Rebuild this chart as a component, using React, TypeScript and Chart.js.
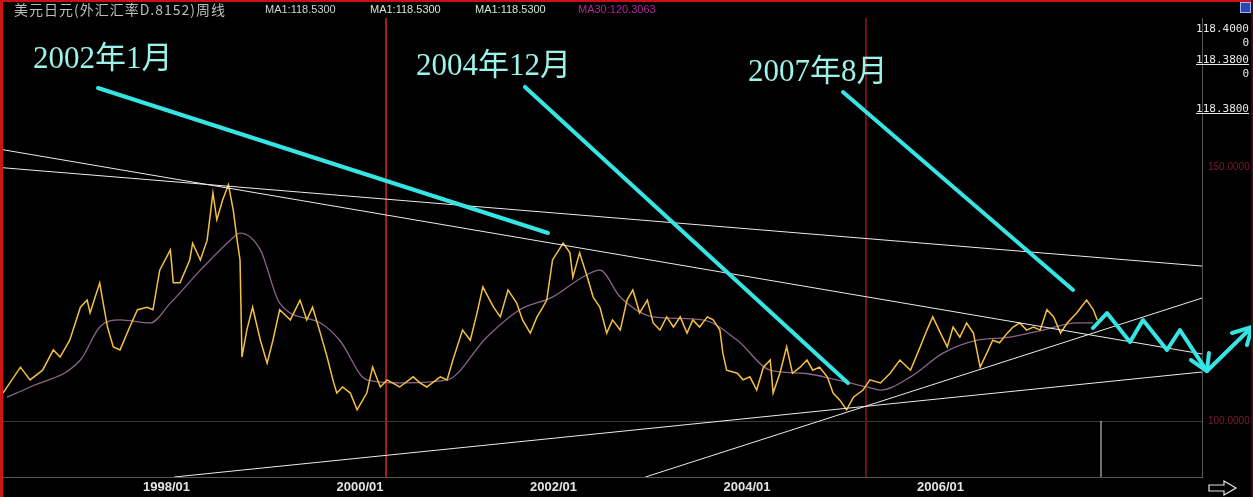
import React, { useEffect, useRef } from 'react';
import { Chart, registerables } from 'chart.js';

Chart.register(...registerables);

// ---- axis ----
const xTickYears = [1998, 2000, 2002, 2004, 2006];
const xTickLabels = ['1998/01', '2000/01', '2002/01', '2004/01', '2006/01'];
const yTickValues = [100, 150];
const yTickLabels = ['100.0000', '150.0000'];
const xMin = 1996.279;
const xMax = 2008.703;
const yMin = 88.98;
const yMax = 179.33;

// ---- header / panel texts ----
const chartTitle = '美元日元(外汇汇率D.8152)周线';
const headerLabels = ['MA1:118.5300', 'MA1:118.5300', 'MA1:118.5300', 'MA30:120.3063'];
const panelLabels = ['118.4000', '0', '118.3800', '0', '118.3800'];
const noteLabels = ['2002年1月', '2004年12月', '2007年8月'];

// ---- weekly price (USD/JPY) ----
const priceYears = [
  1996.31, 1996.49, 1996.59, 1996.72, 1996.83, 1996.9, 1997.0, 1997.11, 1997.18, 1997.21,
  1997.31, 1997.34, 1997.39, 1997.45, 1997.52, 1997.62, 1997.7, 1997.8, 1997.86, 1997.93,
  1998.04, 1998.07, 1998.14, 1998.24, 1998.27, 1998.35, 1998.42, 1998.48, 1998.52, 1998.58,
  1998.64, 1998.69, 1998.73, 1998.76, 1998.78, 1998.83, 1998.89, 1998.97, 1999.04, 1999.1,
  1999.17, 1999.28, 1999.38, 1999.45, 1999.51, 1999.59, 1999.66, 1999.72, 1999.76, 1999.82,
  1999.9, 1999.97, 2000.07, 2000.13, 2000.21, 2000.28, 2000.41, 2000.55, 2000.62, 2000.69,
  2000.83, 2000.9, 2000.96, 2001.06, 2001.14, 2001.21, 2001.27, 2001.38, 2001.45, 2001.53,
  2001.62, 2001.68, 2001.76, 2001.83, 2001.89, 2001.93, 2001.99, 2002.1, 2002.17, 2002.2,
  2002.27, 2002.35, 2002.41, 2002.48, 2002.55, 2002.61, 2002.69, 2002.76, 2002.82, 2002.89,
  2002.97, 2003.03, 2003.1, 2003.17, 2003.24, 2003.31, 2003.38, 2003.44, 2003.51, 2003.59,
  2003.65, 2003.72, 2003.75, 2003.79, 2003.9, 2003.96, 2004.03, 2004.1, 2004.17, 2004.24,
  2004.27, 2004.34, 2004.41, 2004.47, 2004.55, 2004.62, 2004.68, 2004.75, 2004.83, 2004.89,
  2004.96, 2005.03, 2005.1, 2005.2, 2005.27, 2005.38, 2005.48, 2005.58, 2005.69, 2005.79,
  2005.86, 2005.92, 2006.0, 2006.07, 2006.13, 2006.2, 2006.27, 2006.34, 2006.41, 2006.48,
  2006.54, 2006.61, 2006.69, 2006.75, 2006.82, 2006.89, 2006.96, 2007.03, 2007.1, 2007.17,
  2007.24, 2007.31, 2007.41, 2007.51, 2007.58, 2007.62,
];
const priceValues = [
  105.5, 110.6, 108.1, 110.0, 114.0, 112.6, 115.9, 122.4, 123.8, 121.3,
  127.2, 123.8, 118.5, 114.6, 114.0, 118.5, 121.9, 122.4, 121.9, 129.7,
  133.7, 127.2, 127.2, 131.7, 135.0, 131.7, 135.6, 144.9, 139.6, 143.5,
  146.5, 141.5, 135.6, 131.7, 112.6, 117.9, 122.4, 115.9, 111.4, 115.9,
  121.9, 119.9, 123.8, 119.9, 122.4, 117.3, 112.6, 108.1, 105.5, 106.7,
  105.5, 102.2, 105.5, 110.6, 106.7, 108.1, 106.7, 108.7, 107.5, 106.7,
  108.7, 108.1, 112.0, 117.9, 115.9, 121.3, 126.4, 122.4, 120.5, 125.8,
  123.2, 119.9, 117.3, 120.5, 122.4, 123.8, 131.7, 135.0, 133.1, 128.3,
  133.1, 128.3, 124.4, 122.4, 117.3, 119.9, 117.9, 123.8, 125.8, 121.3,
  123.8, 119.3, 117.9, 120.5, 118.5, 120.5, 117.3, 119.9, 118.5, 120.5,
  119.9, 117.9, 113.4, 110.0, 109.4, 108.1, 108.7, 106.1, 110.6, 112.0,
  105.5, 109.4, 114.6, 109.4, 110.6, 112.0, 110.0, 110.6, 108.7, 105.5,
  104.1, 102.2, 104.7, 106.1, 108.1, 107.5, 109.4, 112.0, 110.0, 114.6,
  117.9, 120.5, 117.3, 114.6, 118.5, 116.5, 119.3, 117.3, 110.6, 113.4,
  115.9, 115.4, 117.3, 118.5, 119.3, 117.9, 118.5, 117.9, 121.9, 120.5,
  117.3, 119.3, 121.3, 123.8, 121.9, 119.9,
];

// ---- 30-week moving average ----
const maYears = [
  1996.35, 1996.59, 1997.11, 1997.31, 1997.52, 1997.83, 1998.04, 1998.35, 1998.66, 1998.76,
  1998.97, 1999.17, 1999.59, 1999.79, 2000.07, 2000.41, 2000.9, 2001.31, 2001.65, 2001.99,
  2002.3, 2002.48, 2002.69, 2003.03, 2003.54, 2003.9, 2004.24, 2004.58, 2004.93, 2005.24,
  2005.38, 2005.69, 2006.03, 2006.38, 2006.72, 2007.06, 2007.41, 2007.58,
];
const maValues = [
  104.7, 106.7, 112.0, 118.5, 119.9, 119.3, 123.2, 129.7, 135.6, 137.0,
  133.7, 123.2, 119.3, 115.9, 108.1, 107.5, 108.1, 116.5, 121.9, 124.4,
  128.3, 129.7, 124.4, 120.5, 119.9, 115.9, 110.0, 109.4, 108.1, 106.7,
  106.1, 108.7, 113.4, 115.9, 116.5, 117.9, 119.3, 119.3,
];

// ---- white trend lines [year, value] ----
const trendUpperFlat = [[1996.279, 149.9], [2008.703, 130.5]];
const trendUpperSteep = [[1996.279, 153.5], [2008.703, 113.2]];
const trendLowerFlat = [[1998.08, 88.98], [2008.703, 109.65]];
const trendLowerSteep = [[2002.95, 88.98], [2008.703, 124.2]];

// ---- cyan annotation arrows [year, value] ----
const arrow2002 = [[1997.292, 165.55], [2001.943, 137.01]];
const arrow2004 = [[2001.705, 165.75], [2005.044, 107.48]];
const arrow2007 = [[2004.992, 164.76], [2007.37, 125.79]];
const forecastPath = [
  [2007.576, 118.31], [2007.721, 121.26], [2007.959, 115.55], [2008.093, 119.88],
  [2008.341, 113.98], [2008.475, 117.91], [2008.754, 109.84], [2009.22, 118.5],
];
const forecastDownHead = [[2008.589, 112.01], [2008.754, 109.84], [2008.775, 113.39]];
const forecastUpHead = [[2009.013, 117.32], [2009.22, 118.5], [2009.168, 114.96]];

// ---- vertical markers [year, value] ----
const redMarkerA = [[2000.269, yMin], [2000.269, yMax]];
const redMarkerB = [[2005.23, yMin], [2005.23, yMax]];
const volumeBar = [[2007.659, yMin], [2007.659, 100]];

const pairs = (arr: number[][]) => arr.map(([x, y]) => ({ x, y }));
const zipPts = (xs: number[], ys: number[]) => xs.map((x, i) => ({ x, y: ys[i] }));

export default function App() {
  const ref = useRef<HTMLCanvasElement | null>(null);

  useEffect(() => {
    document.body.style.margin = '0';
    document.body.style.background = '#000';
    if (!ref.current) return;
    const base = { pointRadius: 0, pointHoverRadius: 0, fill: false, tension: 0 };
    // drawn right-to-left so points beyond the x range are not trimmed
    const cyan = (d: number[][]) => ({
      ...base,
      data: pairs([...d].reverse()),
      borderColor: '#36e4e4',
      borderWidth: 4,
      borderCapStyle: 'round',
      borderJoinStyle: 'round',
      clip: false,
    });
    const white = (d: number[][]) => ({
      ...base,
      data: pairs(d),
      borderColor: '#ececec',
      borderWidth: 1,
    });
    const chart = new Chart(ref.current, {
      type: 'line',
      data: {
        datasets: [
          cyan(arrow2002),
          cyan(arrow2004),
          cyan(arrow2007),
          cyan(forecastPath),
          cyan(forecastDownHead),
          cyan(forecastUpHead),
          white(trendUpperFlat),
          white(trendUpperSteep),
          white(trendLowerFlat),
          white(trendLowerSteep),
          { ...base, data: zipPts(priceYears, priceValues), borderColor: '#f4c043', borderWidth: 1.5 },
          {
            ...base,
            data: zipPts(maYears, maValues),
            borderColor: '#8a6488',
            borderWidth: 1.3,
            cubicInterpolationMode: 'monotone',
          },
          { ...base, data: pairs(redMarkerA), borderColor: '#a81a1e', borderWidth: 2 },
          { ...base, data: pairs(redMarkerB), borderColor: '#6c1022', borderWidth: 2 },
          { ...base, data: pairs(volumeBar), borderColor: '#e0e0e0', borderWidth: 1 },
        ] as any,
      },
      options: {
        animation: false,
        responsive: false,
        events: [],
        layout: { padding: { top: 18, left: 0, right: 0, bottom: 0 } },
        plugins: { legend: { display: false }, tooltip: { enabled: false } },
        scales: {
          x: {
            type: 'linear',
            position: 'bottom',
            min: xMin,
            max: xMax,
            afterBuildTicks: (s: any) => {
              s.ticks = xTickYears.map((v) => ({ value: v }));
            },
            afterFit: (s: any) => {
              s.height = 20;
            },
            grid: { display: false, drawTicks: false },
            border: { display: true, color: '#555555', width: 1 },
            ticks: {
              autoSkip: false,
              maxRotation: 0,
              padding: 3,
              color: '#e4e4e4',
              font: { family: '"Liberation Sans", Arial, sans-serif', size: 13, weight: 'bold' },
              callback: (_v: any, i: number) => xTickLabels[i],
            },
          },
          y: {
            type: 'linear',
            position: 'right',
            min: yMin,
            max: yMax,
            afterBuildTicks: (s: any) => {
              s.ticks = yTickValues.map((v) => ({ value: v }));
            },
            afterFit: (s: any) => {
              s.width = 51;
            },
            grid: {
              display: true,
              drawTicks: false,
              lineWidth: 1,
              color: (c: any) => (c.tick && c.tick.value === 100 ? '#3a3a3a' : 'rgba(0,0,0,0)'),
            },
            border: { display: true, color: '#555555', width: 1 },
            ticks: {
              padding: 6,
              color: '#7e1c34',
              font: { family: '"Liberation Sans", Arial, sans-serif', size: 10 },
              callback: (_v: any, i: number) => yTickLabels[i],
            },
          },
        },
      } as any,
    });
    return () => chart.destroy();
  }, []);

  const noteStyle = (left: number, top: number): React.CSSProperties => ({
    position: 'absolute',
    left,
    top,
    fontFamily: '"Liberation Serif", "Noto Sans CJK SC", serif',
    fontSize: 31,
    lineHeight: '31px',
    color: '#9cf3ea',
    whiteSpace: 'nowrap',
  });
  const headerColors = ['#d2d2d2', '#e2e2c8', '#cfe6cf', '#b8239e'];
  const headerLefts = [265, 370, 475, 578];
  const panelTops = [22, 36, 53, 67, 102];
  const panelUnderline = [false, false, true, false, true];

  return (
    <div
      style={{
        position: 'fixed',
        left: 0,
        top: 0,
        width: 1253,
        height: 497,
        background: '#000',
        overflow: 'hidden',
      }}
    >
      <canvas
        ref={ref}
        width={1253}
        height={497}
        style={{ position: 'absolute', left: 0, top: 0, width: 1253, height: 497 }}
      />
      {/* frame */}
      <div style={{ position: 'absolute', left: 0, top: 0, width: 1253, height: 2, background: '#c81212' }} />
      <div style={{ position: 'absolute', left: 0, top: 0, width: 3, height: 497, background: '#d01414' }} />
      <div style={{ position: 'absolute', left: 1251, top: 0, width: 2, height: 497, background: '#3a0a10' }} />
      {/* header */}
      <div
        style={{
          position: 'absolute',
          left: 14,
          top: 1,
          fontFamily: '"Noto Sans CJK SC", sans-serif',
          fontSize: 14,
          lineHeight: '16px',
          letterSpacing: 1,
          color: '#bdbdbd',
          whiteSpace: 'nowrap',
        }}
      >
        {chartTitle}
      </div>
      {headerLabels.map((t, i) => (
        <div
          key={i}
          style={{
            position: 'absolute',
            left: headerLefts[i],
            top: 2,
            fontFamily: '"Liberation Sans", Arial, sans-serif',
            fontSize: 11,
            lineHeight: '14px',
            color: headerColors[i],
            whiteSpace: 'nowrap',
          }}
        >
          {t}
        </div>
      ))}
      {/* top right icon */}
      <div
        style={{
          position: 'absolute',
          left: 1240,
          top: 2,
          width: 11,
          height: 11,
          background: '#2c48b0',
          border: '1px solid #9fb4ff',
          boxSizing: 'border-box',
        }}
      />
      {/* right info panel */}
      {panelLabels.map((t, i) => (
        <div
          key={i}
          style={{
            position: 'absolute',
            right: 4,
            top: panelTops[i],
            fontFamily: '"DejaVu Sans Mono", monospace',
            fontSize: 11,
            lineHeight: '13px',
            color: '#e8e8e8',
            whiteSpace: 'nowrap',
            textDecoration: panelUnderline[i] ? 'underline' : 'none',
          }}
        >
          {t}
        </div>
      ))}
      {/* annotations */}
      <div style={noteStyle(33, 42)}>{noteLabels[0]}</div>
      <div style={noteStyle(416, 49)}>{noteLabels[1]}</div>
      <div style={noteStyle(748, 55)}>{noteLabels[2]}</div>
      {/* bottom right scroll arrow */}
      <svg
        style={{ position: 'absolute', left: 1208, top: 480 }}
        width={30}
        height={16}
        viewBox="0 0 30 16"
      >
        <polygon
          points="1,5 16,5 16,1 28,8 16,15 16,11 1,11"
          fill="none"
          stroke="#e6e6e6"
          strokeWidth={1.2}
        />
      </svg>
    </div>
  );
}
